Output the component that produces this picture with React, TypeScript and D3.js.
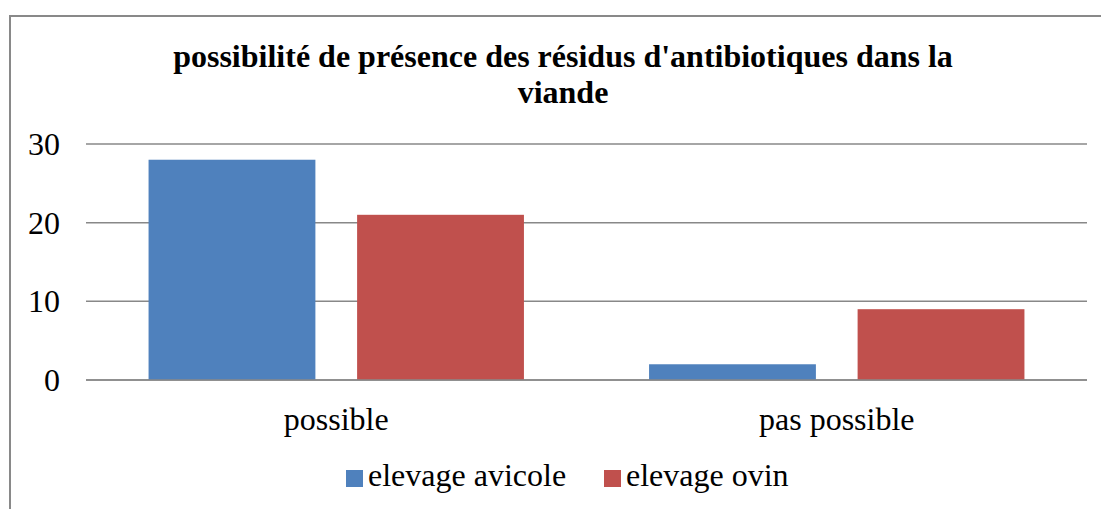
import React, { useRef, useEffect } from 'react' ;
import * as d3 from 'd3' ;

const categories = ['possible', 'pas possible'] ;
const seriesNames = ['elevage avicole', 'elevage ovin'] ;
const avicole = [28, 2] ;
const ovin = [21, 9] ;
const yTicks = [0, 10, 20, 30] ;
const titleLines = ["possibilité de présence des résidus d'antibiotiques dans la", 'viande'] ;

const colors = ['#4F81BD', '#C0504D'] ;

const App = () => {

    const ref = useRef<SVGSVGElement>(null) ;

    useEffect( () => {

        const svg = d3.select(ref.current) ;
        svg.selectAll('*').remove() ;

        const font = '"Liberation Serif", "Times New Roman", serif' ;
        const plot = { left : 86, right : 1087, top : 144, bottom : 380 } ;

        const rows = categories.map( (c, i) => ({ cat : c, values : [avicole[i], ovin[i]] }) ) ;

        const x0 = d3.scaleBand().domain(categories).range([plot.left, plot.right]).paddingInner(0.25).paddingOuter(0.125) ;
        const x1 = d3.scaleBand().domain(seriesNames).range([0, x0.bandwidth()]).paddingInner(0.2).paddingOuter(0) ;
        const y = d3.scaleLinear().domain([0, 30]).range([plot.bottom, plot.top]) ;

        // chart border
        svg.append('rect')
            .attr('x', 10).attr('y', 16)
            .attr('width', 1120).attr('height', 520)
            .attr('fill', 'white')
            .attr('stroke', '#898989')
            .attr('stroke-width', 2) ;

        // title
        titleLines.forEach( (t, i) => {
            svg.append('text')
                .attr('x', 563)
                .attr('y', 67 + i * 36)
                .attr('text-anchor', 'middle')
                .style('font-family', font)
                .style('font-weight', 'bold')
                .style('font-size', '32px')
                .attr('fill', '#000')
                .text(t) ;
        })

        // gridlines
        svg.append('g')
            .selectAll('line')
            .data(yTicks)
            .join('line')
            .attr('x1', plot.left).attr('x2', plot.right)
            .attr('y1', d => y(d)).attr('y2', d => y(d))
            .attr('stroke', '#888')
            .attr('stroke-width', 1.5) ;

        // y labels
        svg.append('g')
            .selectAll('text')
            .data(yTicks)
            .join('text')
            .attr('x', 60)
            .attr('y', d => y(d) + 11)
            .attr('text-anchor', 'end')
            .style('font-family', font)
            .style('font-size', '32px')
            .attr('fill', '#000')
            .text(d => d) ;

        // bars
        const groups = svg.append('g')
            .selectAll('g')
            .data(rows)
            .join('g')
            .attr('transform', d => `translate(${x0(d.cat)}, 0)`) ;

        groups.selectAll('rect')
            .data(d => d.values.map( (v, i) => ({ key : seriesNames[i], value : v, idx : i }) ))
            .join('rect')
            .attr('x', d => x1(d.key))
            .attr('y', d => y(d.value))
            .attr('width', x1.bandwidth())
            .attr('height', d => plot.bottom - y(d.value))
            .attr('fill', d => colors[d.idx]) ;

        // redraw baseline over bars
        svg.append('line')
            .attr('x1', plot.left).attr('x2', plot.right)
            .attr('y1', y(0)).attr('y2', y(0))
            .attr('stroke', '#888')
            .attr('stroke-width', 1.5) ;

        // category labels
        svg.append('g')
            .selectAll('text')
            .data(categories)
            .join('text')
            .attr('x', d => x0(d) + x0.bandwidth() / 2)
            .attr('y', 430)
            .attr('text-anchor', 'middle')
            .style('font-family', font)
            .style('font-size', '32px')
            .attr('fill', '#000')
            .text(d => d) ;

        // legend
        const legendX = [346, 604] ;
        seriesNames.forEach( (s, i) => {
            svg.append('rect')
                .attr('x', legendX[i]).attr('y', 470)
                .attr('width', 17).attr('height', 17)
                .attr('fill', colors[i]) ;
            svg.append('text')
                .attr('x', legendX[i] + 22)
                .attr('y', 486)
                .style('font-family', font)
                .style('font-size', '32px')
                .attr('fill', '#000')
                .text(s) ;
        })

    }, [])

    return (
        <svg ref={ref} width={1101} height={509}
            style={{ position : 'absolute', left : 0, top : 0, background : 'white' }} />
    )
}

export default App ;
